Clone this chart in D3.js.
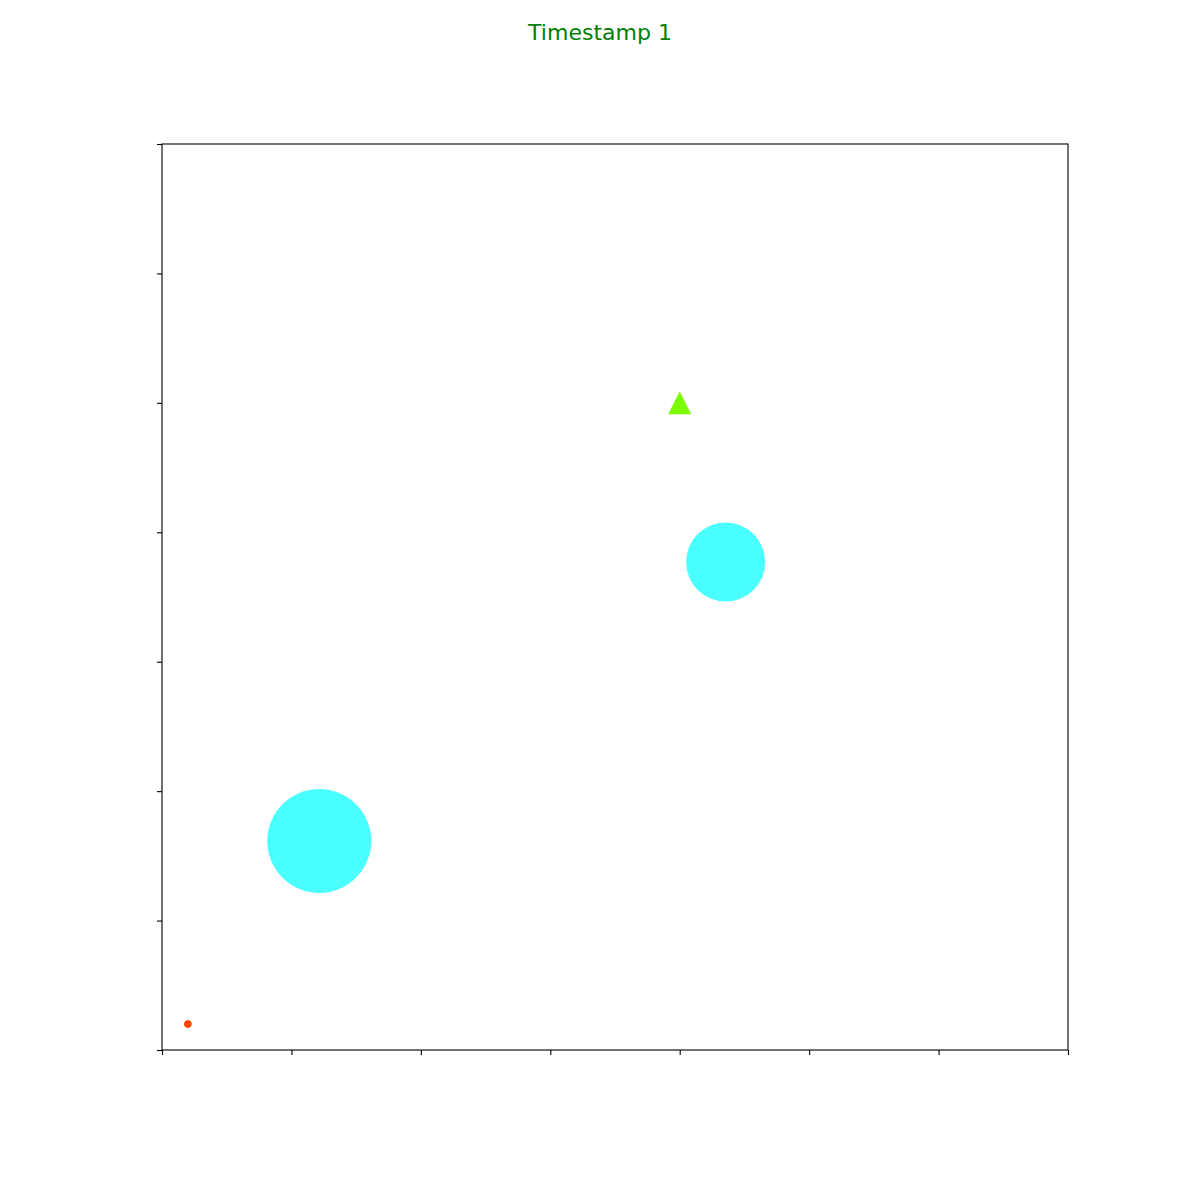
<!DOCTYPE html>
<html><head><meta charset="utf-8">
<script src="https://cdn.jsdelivr.net/npm/d3@7"></script>
<style>body{margin:0;background:#fff}</style>
</head><body>
<svg id="chart" width="1200" height="1200"></svg>
<script>
const titleText = "Timestamp 1";
const tickValues = [0, 1, 2, 3, 4, 5, 6, 7];
const circleX = [1.215, 4.355, 0.2];
const circleY = [1.615, 3.77, 0.2];
const circleSize = [5600, 3240, 30];
const circleColor = ["#00ffff", "#00ffff", "#ff4500"];
const circleOpacity = [0.71, 0.71, 1];
const triX = [4];
const triY = [5];
const triColor = ["#7cfc00"];

const svg = d3.select("#chart");
const plotLeft = 162, plotRight = 1068, plotTop = 144, plotBottom = 1050;
const x = d3.scaleLinear().domain([0, 7]).range([plotLeft, plotRight]);
const y = d3.scaleLinear().domain([0, 7]).range([plotBottom, plotTop]);
const r = d3.scaleSqrt().domain([0, 5600]).range([0, 52]);

svg.append("text").attr("x", 600).attr("y", 40).attr("text-anchor", "middle")
  .attr("font-family", "DejaVu Sans").attr("font-size", 22).attr("fill", "#008000")
  .text(titleText);

const circles = circleX.map((d, i) => ({x: d, y: circleY[i], s: circleSize[i], c: circleColor[i], o: circleOpacity[i]}));
svg.append("g").selectAll("circle").data(circles).join("circle")
  .attr("cx", d => x(d.x)).attr("cy", d => y(d.y)).attr("r", d => r(d.s))
  .attr("fill", d => d.c).attr("fill-opacity", d => d.o);

const tris = triX.map((d, i) => ({x: d, y: triY[i], c: triColor[i]}));
const h = 11.5;
svg.append("g").selectAll("path").data(tris).join("path")
  .attr("d", d => { const cx = x(d.x), cy = y(d.y);
    return `M${cx},${cy - h}L${cx - h},${cy + h}L${cx + h},${cy + h}Z`; })
  .attr("fill", d => d.c);

svg.append("rect").attr("x", plotLeft).attr("y", plotTop).attr("width", plotRight - plotLeft).attr("height", plotBottom - plotTop)
  .attr("fill", "none").attr("stroke", "#000").attr("stroke-width", 1.1);

const xAxis = svg.append("g").attr("transform", `translate(0,${plotBottom})`)
  .call(d3.axisBottom(x).tickValues(tickValues).tickSize(5).tickFormat(""));
const yAxis = svg.append("g").attr("transform", `translate(${plotLeft},0)`)
  .call(d3.axisLeft(y).tickValues(tickValues).tickSize(5).tickFormat(""));
[xAxis, yAxis].forEach(a => { a.select(".domain").remove(); a.selectAll("line").attr("stroke", "#000").attr("stroke-width", 1.1); });
</script>
</body></html>
